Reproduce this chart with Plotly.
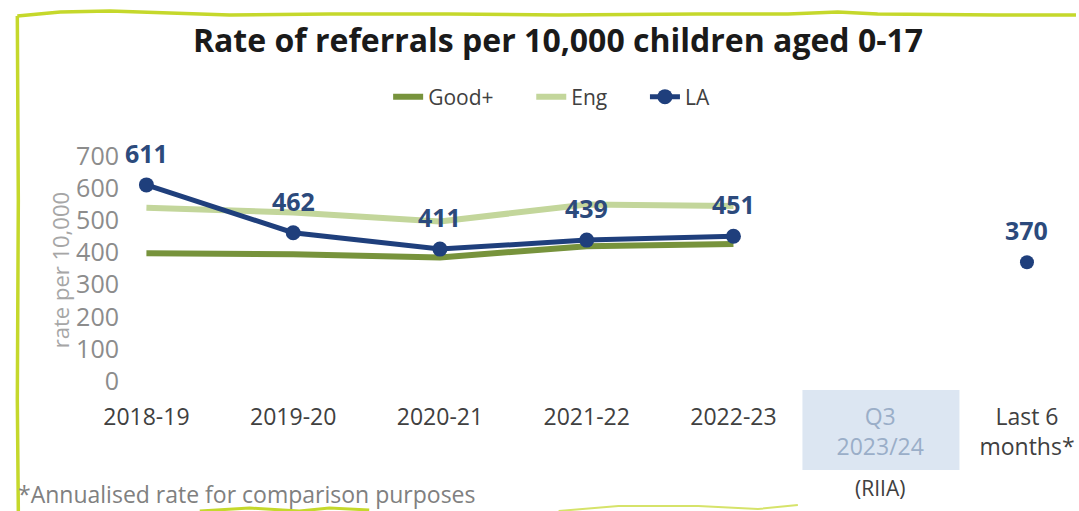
import plotly.graph_objects as go

categories = ["2018-19", "2019-20", "2020-21", "2021-22", "2022-23", "Q3 2023/24", "Last 6 months*"]
tick_text = ["2018-19", "2019-20", "2020-21", "2021-22", "2022-23",
             "<span style='color:#9aaec8'>Q3</span><br><span style='color:#9aaec8'>2023/24</span>",
             "Last 6<br>months*"]
years = categories[:5]
good_plus = [398, 395, 385, 420, 427]
eng = [540, 525, 497, 550, 545]
la = [611, 462, 411, 439, 451]
last6_cat = [categories[6]]
last6_val = [370]
y_ticks = [0, 100, 200, 300, 400, 500, 600, 700]

W, H = 1079, 511
L, R, T, B = 120, 5, 130, 116
PW, PH = W - L - R, H - T - B

def xp(px):
    return (px - L) / PW

def yp(py):
    return (H - B - py) / PH

FONT = "Open Sans"
GAP = "&nbsp;" * 6
fig = go.Figure()
fig.add_trace(go.Scatter(x=years, y=good_plus, name="Good+" + GAP, mode="lines",
                         line=dict(color="#77933c", width=6)))
fig.add_trace(go.Scatter(x=years, y=eng, name="Eng" + GAP, mode="lines",
                         line=dict(color="#c3d69b", width=6)))
fig.add_trace(go.Scatter(x=years, y=la, name="LA", mode="lines+markers",
                         line=dict(color="#1f3f7c", width=5),
                         marker=dict(size=15, color="#1f3f7c")))
fig.add_trace(go.Scatter(x=last6_cat, y=last6_val, name="LA last 6", mode="markers",
                         showlegend=False, marker=dict(size=14, color="#1f3f7c")))

for c, v in list(zip(years, la)) + list(zip(last6_cat, last6_val)):
    fig.add_annotation(x=c, y=v, text=f"<b>{v}</b>", showarrow=False, yshift=32,
                       font=dict(family=FONT, size=25, color="#2c4a7c"))

shapes = []
# shaded Q3 tick background
shapes.append(dict(type="rect", xref="x", yref="paper", x0=4.47, x1=5.54,
                   y0=yp(390), y1=yp(470), fillcolor="#dce6f2", line=dict(width=0), layer="below"))
# hand-drawn lime border
top = [(17, 16), (60, 12), (110, 11), (170, 13), (230, 15), (330, 14), (450, 14), (560, 15),
       (700, 14), (790, 14), (840, 12), (880, 14), (1000, 15), (1079, 15)]
path = "M " + " L ".join(f"{xp(x):.5f},{yp(y):.5f}" for x, y in top)
shapes.append(dict(type="path", xref="paper", yref="paper", path=path,
                   line=dict(color="#c5d82b", width=3.5)))
left = [(17, 16), (18, 200), (17, 400), (18, 511)]
path = "M " + " L ".join(f"{xp(x):.5f},{yp(y):.5f}" for x, y in left)
shapes.append(dict(type="path", xref="paper", yref="paper", path=path,
                   line=dict(color="#c5d82b", width=3.5)))
bottom = [(200, 511), (250, 508), (300, 511), (330, 508), (370, 510)]
path = "M " + " L ".join(f"{xp(x):.5f},{yp(y):.5f}" for x, y in bottom)
shapes.append(dict(type="path", xref="paper", yref="paper", path=path,
                   line=dict(color="#c5d82b", width=3)))
bottom2 = [(560, 511), (620, 506), (700, 506), (760, 509), (800, 505)]
path = "M " + " L ".join(f"{xp(x):.5f},{yp(y):.5f}" for x, y in bottom2)
shapes.append(dict(type="path", xref="paper", yref="paper", path=path,
                   line=dict(color="#d6e36a", width=2)))

fig.add_annotation(x=categories[5], y=yp(488), xref="x", yref="paper", yanchor="middle",
                   text="(RIIA)", showarrow=False, font=dict(family=FONT, size=21, color="#404040"))
fig.add_annotation(x=xp(60), y=yp(270), xref="paper", yref="paper", xanchor="center",
                   yanchor="middle", text="rate per 10,000", textangle=-90, showarrow=False,
                   font=dict(family=FONT, size=22, color="#a6a6a6"))
fig.add_annotation(x=xp(16), y=yp(494), xref="paper", yref="paper", xanchor="left",
                   yanchor="middle", text="*Annualised rate for comparison purposes",
                   showarrow=False, font=dict(family=FONT, size=23, color="#808080"))

fig.update_layout(
    width=W, height=H, margin=dict(l=L, r=R, t=T, b=B),
    paper_bgcolor="white", plot_bgcolor="white",
    title=dict(text="<b>Rate of referrals per 10,000 children aged 0-17</b>",
               x=558 / W, xref="container", xanchor="center",
               y=1 - 41 / H, yref="container", yanchor="middle",
               font=dict(family=FONT, size=32, color="#1a1a1a")),
    legend=dict(orientation="h", x=xp(553), xanchor="center", y=yp(97), yanchor="middle",
                font=dict(family=FONT, size=21, color="#404040"), itemwidth=30,
                bgcolor="rgba(0,0,0,0)"),
    shapes=shapes,
    xaxis=dict(type="category", categoryorder="array", categoryarray=categories,
               range=[-0.18, 6.3], tickvals=categories, ticktext=tick_text,
               showgrid=False, zeroline=False, showline=False, ticks="",
               ticklabelstandoff=6,
               tickfont=dict(family=FONT, size=23, color="#404040")),
    yaxis=dict(range=[-43.6, 782], tickvals=y_ticks, showgrid=False, zeroline=False,
               showline=False, ticks="", tickfont=dict(family=FONT, size=25, color="#8c8c8c")),
)

fig.write_html("out.html")
